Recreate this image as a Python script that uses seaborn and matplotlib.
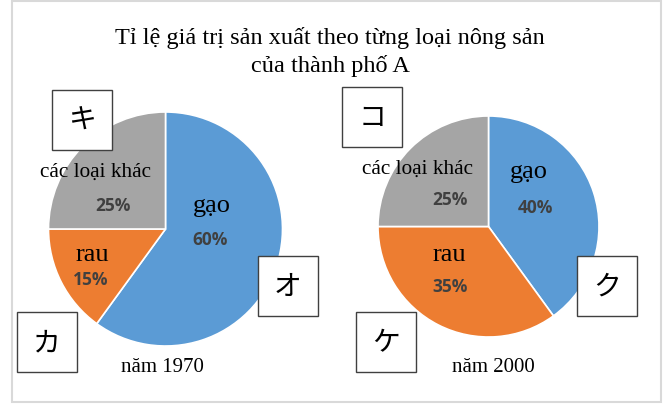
import matplotlib
matplotlib.use("Agg")
import matplotlib.pyplot as plt
import seaborn as sns
from matplotlib.patches import Rectangle

# Data
categories = ["gạo", "rau", "các loại khác"]
share_1970 = [60, 15, 25]
share_2000 = [40, 35, 25]
years = ["năm 1970", "năm 2000"]
title = "Tỉ lệ giá trị sản xuất theo từng loại nông sản\ncủa thành phố A"
box_marks_1970 = ["キ", "オ", "カ"]
box_marks_2000 = ["コ", "ク", "ケ"]

sns.set_theme(style="white")
plt.rcParams['font.family'] = ['Liberation Serif', 'Noto Sans CJK JP']
colors = ["#5B9BD5", "#ED7D31", "#A5A5A5"]

W, H = 664, 406
fig = plt.figure(figsize=(W / 100, H / 100), dpi=100)


def px_axes(left, top, width, height):
    # axes placed in pixel coordinates (top-left origin)
    return fig.add_axes([left / W, (H - top - height) / H, width / W, height / H])


# Outer light border
fig.patches.append(Rectangle((12 / W, 3 / H), (661 - 12) / W, (404 - 3) / H,
                             transform=fig.transFigure, fill=False,
                             edgecolor="#D9D9D9", linewidth=1.5))

fig.text(330 / W, 1 - 52 / H, title, ha="center", va="center", fontsize=17.5,
         linespacing=1.3, color="black")


def draw_pie(ax, values, label_pos, pct_pos, year, year_pos):
    ax.pie(values, colors=colors, startangle=90, counterclock=False,
           wedgeprops=dict(edgecolor="white", linewidth=1.2))
    ax.set_xlim(-1, 1)
    ax.set_ylim(-1, 1)
    ax.set_aspect("equal")
    ax.axis("off")
    for name, v, (lx, ly), (px, py) in zip(categories, values, label_pos, pct_pos):
        fs = 19 if name != "các loại khác" else 15.3
        ax.text(lx, ly, name, ha="center", va="center", fontsize=fs, color="black")
        ax.text(px, py, f"{v}%", ha="center", va="center", fontsize=12.5,
                fontweight="bold", color="#404040", family="Open Sans")
    ax.text(year_pos[0], year_pos[1], year, ha="center", va="center",
            fontsize=15, color="black", clip_on=False)


# Left pie: center (165.5, 230), radius 117
ax1 = px_axes(48.5, 113, 234, 234)
r1, cx1, cy1 = 117, 165.5, 230
to1 = lambda x, y: ((x - cx1) / r1, (cy1 - y) / r1)
draw_pie(ax1, share_1970,
         [to1(212, 206), to1(92, 255), to1(95, 172)],
         [to1(210, 240), to1(91, 280), to1(113, 206)],
         years[0], to1(162, 367))

# Right pie: center (488.5, 227.5), radius 110.5
ax2 = px_axes(378, 117, 221, 221)
r2, cx2, cy2 = 110.5, 488.5, 227.5
to2 = lambda x, y: ((x - cx2) / r2, (cy2 - y) / r2)
draw_pie(ax2, share_2000,
         [to2(529, 172), to2(449, 255), to2(417, 169)],
         [to2(535, 208), to2(450, 287), to2(450, 200)],
         years[1], to2(493, 367))

# Marker boxes with katakana
boxes = [
    (box_marks_1970[0], 52, 91), (box_marks_1970[1], 258, 257), (box_marks_1970[2], 17, 313),
    (box_marks_2000[0], 342, 88), (box_marks_2000[1], 577, 257), (box_marks_2000[2], 356, 313),
]
for mark, bx, by in boxes:
    fig.patches.append(Rectangle((bx / W, (H - by - 60) / H), 60 / W, 60 / H,
                                 transform=fig.transFigure, facecolor="white",
                                 edgecolor="#404040", linewidth=1.0, zorder=5))
    fig.text((bx + 30) / W, 1 - (by + 30) / H, mark, ha="center", va="center",
             fontsize=20, family="Noto Sans CJK JP", color="black", zorder=6)

fig.savefig("out.png", dpi=100)
